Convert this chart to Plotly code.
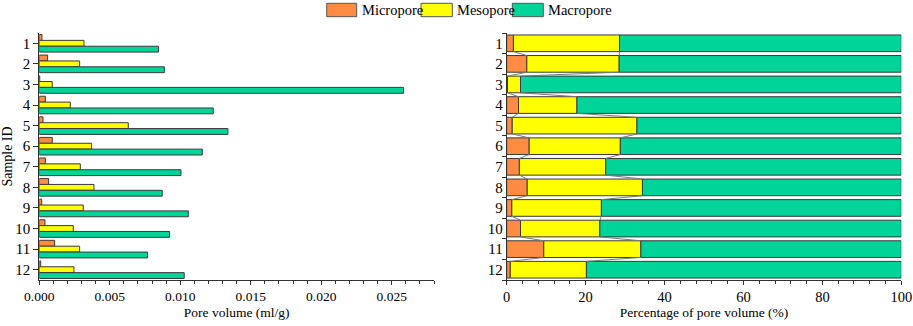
import plotly.graph_objects as go

# ---- data ----
sample_ids = [1, 2, 3, 4, 5, 6, 7, 8, 9, 10, 11, 12]
sample_labels = [str(s) for s in sample_ids]

micro_vol = [0.00019, 0.00059, 0.00003, 0.00043, 0.00026, 0.00092, 0.00043, 0.00066, 0.00017, 0.00040, 0.00109, 0.00010]
meso_vol = [0.00317, 0.00286, 0.00092, 0.00220, 0.00631, 0.00371, 0.00291, 0.00388, 0.00312, 0.00241, 0.00286, 0.00246]
macro_vol = [0.00846, 0.00887, 0.02584, 0.01234, 0.01338, 0.01156, 0.01005, 0.00872, 0.01057, 0.00924, 0.00768, 0.01028]

micro_pct = [1.7, 5.1, 0.2, 3.0, 1.4, 5.7, 3.2, 5.2, 1.3, 3.5, 9.4, 0.9]
meso_pct = [26.9, 23.4, 3.3, 14.8, 31.6, 23.1, 21.9, 29.2, 22.7, 20.1, 24.6, 19.3]
macro_pct = [round(100 - a - b, 2) for a, b in zip(micro_pct, meso_pct)]

series_names = ["Micropore", "Mesopore", "Macropore"]
colors = ["#FF8C42", "#FFFF00", "#00D498"]

W, H = 913, 326
FONT = "Liberation Serif"

def px_x(p):
    return p / W

def px_y(p):
    return 1 - p / H

fig = go.Figure()

outline = dict(color="#3a3a3a", width=1)

# ---- left: grouped bars ----
bw = 0.285
offsets = [-0.4275, -0.1425, 0.1425]
for name, vals, col, off in zip(series_names, [micro_vol, meso_vol, macro_vol], colors, offsets):
    fig.add_trace(go.Bar(
        y=sample_ids, x=vals, orientation="h", name=name,
        marker=dict(color=col, line=outline),
        width=bw, offset=off, xaxis="x", yaxis="y", showlegend=False,
    ))

# ---- right: stacked percentage bars ----
rw = 0.81
bases = [
    [0] * len(sample_ids),
    micro_pct,
    [a + b for a, b in zip(micro_pct, meso_pct)],
]
for name, vals, col, base in zip(series_names, [micro_pct, meso_pct, macro_pct], colors, bases):
    fig.add_trace(go.Bar(
        y=sample_ids, x=vals, base=base, orientation="h", name=name,
        marker=dict(color=col, line=outline),
        width=rw, offset=-rw / 2, xaxis="x2", yaxis="y2", showlegend=False,
    ))

# connecting lines between stacked bars
for bnd in [bases[1], bases[2]]:
    xs, ys = [], []
    for i in range(len(sample_ids) - 1):
        xs += [bnd[i], bnd[i + 1], None]
        ys += [sample_ids[i] + rw / 2, sample_ids[i + 1] - rw / 2, None]
    fig.add_trace(go.Scatter(
        x=xs, y=ys, mode="lines", line=dict(color="#7a7a7a", width=1),
        xaxis="x2", yaxis="y2", showlegend=False, hoverinfo="skip",
    ))

xtick_font = dict(family=FONT, size=13.5, color="black")
x2tick_font = dict(family=FONT, size=14.5, color="black")
ytick_font = dict(family=FONT, size=15, color="black")
title_font = dict(family=FONT, size=13.5, color="black")

y0, y1 = px_y(280), px_y(33)

fig.update_layout(
    width=W, height=H,
    margin=dict(l=0, r=0, t=0, b=0),
    paper_bgcolor="white", plot_bgcolor="white",
    barmode="overlay",
    font=xtick_font,
    xaxis=dict(
        domain=[px_x(39.3), px_x(434)], range=[0, 0.028], anchor="y",
        tickvals=[0, 0.005, 0.01, 0.015, 0.02, 0.025],
        ticktext=["0.000", "0.005", "0.010", "0.015", "0.020", "0.025"],
        ticks="outside", ticklen=4, tickcolor="#333", showline=True, linecolor="#333", linewidth=1,
        minor=dict(dtick=0.001, tick0=0, ticks="outside", ticklen=3, tickcolor="#333"),
        showgrid=False, zeroline=False, automargin=False, tickfont=xtick_font,
        title=dict(text="Pore volume (ml/g)", font=title_font, standoff=4),
    ),
    yaxis=dict(
        domain=[y0, y1], range=[12.5, 0.5], anchor="x",
        tickvals=sample_ids, ticktext=sample_labels,
        ticks="outside", ticklen=5, tickcolor="#333", showline=True, linecolor="#333", linewidth=1,
        showgrid=False, zeroline=False, automargin=False, tickfont=ytick_font,
        title=dict(text="Sample ID", font=dict(family=FONT, size=14, color="black"), standoff=1),
    ),
    xaxis2=dict(
        domain=[px_x(506.7), px_x(901.3)], range=[0, 100], anchor="y2",
        tickvals=[0, 20, 40, 60, 80, 100],
        ticks="outside", ticklen=4, tickcolor="#333", showline=True, linecolor="#333", linewidth=1,
        minor=dict(dtick=4, tick0=0, ticks="outside", ticklen=3, tickcolor="#333"),
        showgrid=False, zeroline=False, automargin=False, tickfont=x2tick_font,
        title=dict(text="Percentage of pore volume (%)", font=title_font, standoff=3),
    ),
    yaxis2=dict(
        domain=[y0, y1], range=[12.5, 0.5], anchor="x2",
        tickvals=sample_ids, ticktext=sample_labels, ticks="",
        minor=dict(tickmode="array", tickvals=[i + 0.5 for i in range(0, 13)],
                   ticks="outside", ticklen=4, tickcolor="#333"),
        showline=True, linecolor="#333", linewidth=1,
        showgrid=False, zeroline=False, automargin=False, tickfont=ytick_font,
    ),
)

# ---- manual legend ----
legend_items = [
    (326.7, 356.7, 359.5),
    (421.0, 452.3, 455.0),
    (512.3, 543.3, 546.0),
]
for (xa, xb, xt), name, col in zip(legend_items, series_names, colors):
    fig.add_shape(type="rect", xref="paper", yref="paper",
                  x0=px_x(xa), x1=px_x(xb), y0=px_y(16.7), y1=px_y(3.3),
                  fillcolor=col, line=dict(color="#555", width=1))
    fig.add_annotation(xref="paper", yref="paper", x=px_x(xt), y=px_y(10),
                       text=name, showarrow=False, xanchor="left", yanchor="middle",
                       font=dict(family=FONT, size=14.5, color="black"))

# remove the browser's default page margin so the figure fills the window
fig.write_html("out.html", config={"displayModeBar": False},
               post_script="document.body.style.margin='0';document.body.style.overflow='hidden';")
